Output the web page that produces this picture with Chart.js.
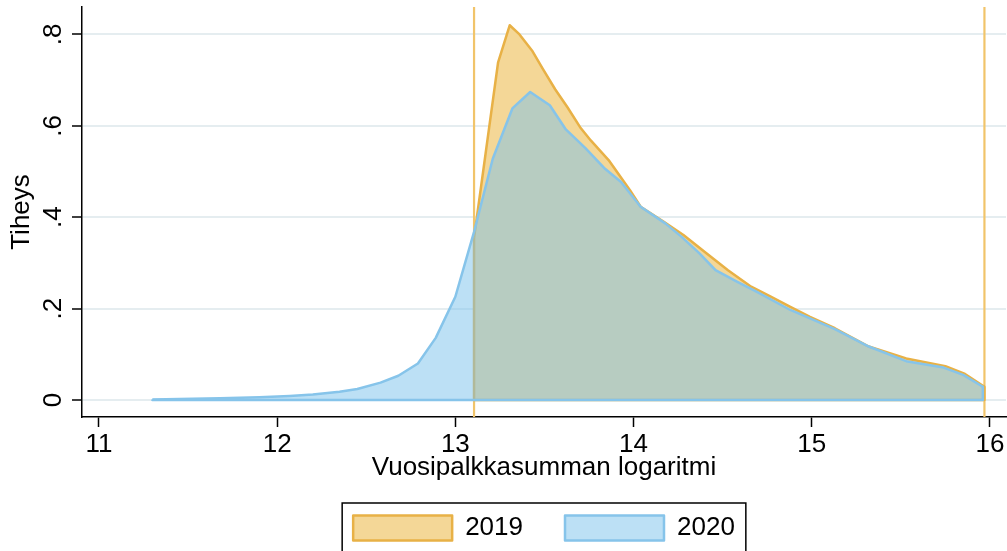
<!DOCTYPE html>
<html>
<head>
<meta charset="utf-8">
<script src="https://cdn.jsdelivr.net/npm/chart.js@4.4.1/dist/chart.umd.min.js"></script>
<style>
  html, body { margin: 0; padding: 0; background: #fff; overflow: hidden; }
  #wrap { width: 1007px; height: 551px; }
</style>
</head>
<body>
<div id="wrap"><canvas id="density-chart"></canvas></div>
<script>
// density curves
var x2019 = [13.105, 13.17, 13.24, 13.305, 13.36, 13.43, 13.49, 13.56, 13.63, 13.70, 13.76, 13.86, 13.98, 14.04,
             14.17, 14.28, 14.40, 14.53, 14.66, 14.77, 14.88, 14.99, 15.13, 15.32, 15.53, 15.75, 15.86, 15.969];
var dens2019 = [0.355, 0.54, 0.739, 0.82, 0.80, 0.765, 0.725, 0.68, 0.64, 0.597, 0.568, 0.525, 0.459, 0.423,
                0.39, 0.361, 0.324, 0.284, 0.248, 0.226, 0.204, 0.182, 0.157, 0.117, 0.091, 0.074, 0.057, 0.029];
var x2020 = [11.30, 11.68, 11.90, 12.07, 12.20, 12.35, 12.45, 12.58, 12.68, 12.79, 12.89, 13.00, 13.105, 13.21,
             13.32, 13.42, 13.53, 13.62, 13.73, 13.84, 13.93, 14.04, 14.18, 14.27, 14.37, 14.46, 14.58, 14.69,
             14.88, 15.13, 15.32, 15.53, 15.74, 15.85, 15.96];
var dens2020 = [0.001, 0.004, 0.006, 0.009, 0.012, 0.018, 0.024, 0.038, 0.053, 0.080, 0.136, 0.226, 0.368, 0.528,
                0.638, 0.674, 0.645, 0.592, 0.551, 0.506, 0.477, 0.423, 0.386, 0.357, 0.321, 0.284, 0.259, 0.237,
                0.197, 0.155, 0.117, 0.085, 0.071, 0.055, 0.029];
var seriesLabels = ["2019", "2020"];
var xlines = [13.105, 15.969];
var xTicks = [11, 12, 13, 14, 15, 16];
var xTickLabels = ["11", "12", "13", "14", "15", "16"];
var yTicks = [0, 0.2, 0.4, 0.6, 0.8];
var yTickLabels = ["0", ".2", ".4", ".6", ".8"];

var FONT = "'Liberation Sans', Arial, Helvetica, sans-serif";
var X_MIN = 10.905, X_MAX = 16.09, Y_MIN = -0.0372, Y_MAX = 0.86;

function pts(xs, ys) {
    return xs.map(function(x, i) { return {x: x, y: ys[i]}; });
}
// close the area outline: drop to zero at both ends and run along the baseline
function outline(xs, ys) {
    var n = xs.length - 1;
    return [{x: xs[n], y: ys[n]}, {x: xs[n], y: 0}, {x: xs[0], y: 0}, {x: xs[0], y: ys[0]}];
}

var orangeLine = '#e8b146', orangeFill = '#f4d797';
var blueLine = '#86c4ea', blueFill = 'rgba(122,193,236,0.5)';

var datasets = [
    {label: seriesLabels[0], data: pts(x2019, dens2019), fill: 'origin', order: 4,
     borderColor: orangeLine, backgroundColor: orangeFill, borderWidth: 2.5},
    {label: seriesLabels[1], data: pts(x2020, dens2020), fill: 'origin', order: 2,
     borderColor: blueLine, backgroundColor: blueFill, borderWidth: 2.5},
    {label: 'edge2019', data: outline(x2019, dens2019), fill: false, order: 3,
     borderColor: orangeLine, borderWidth: 2.5},
    {label: 'edge2020', data: outline(x2020, dens2020), fill: false, order: 1,
     borderColor: blueLine, borderWidth: 2.5}
];
xlines.forEach(function(v) {
    datasets.push({label: 'xline', data: [{x: v, y: Y_MIN}, {x: v, y: Y_MAX}], fill: false, order: 6,
                   borderColor: '#f1c46a', borderWidth: 2.2, clip: false});
});

// tick labels drawn by hand: the y ones are rotated, which Chart.js can't do on a vertical axis,
// and the x ones sit lower than the library puts them
var tickLabelsPlugin = {
    id: 'tickLabels',
    afterDraw: function(chart) {
        var ctx = chart.ctx, xs = chart.scales.x, ys = chart.scales.y, area = chart.chartArea;
        ctx.save();
        ctx.fillStyle = '#000';
        ctx.font = '26px ' + FONT;
        ctx.textAlign = 'center';
        ctx.textBaseline = 'alphabetic';
        xTicks.forEach(function(v, i) {
            ctx.fillText(xTickLabels[i], xs.getPixelForValue(v), area.bottom + 35);
        });
        yTicks.forEach(function(v, i) {
            ctx.save();
            ctx.translate(area.left - 21, ys.getPixelForValue(v));
            ctx.rotate(-Math.PI / 2);
            ctx.fillText(yTickLabels[i], 0, 0);
            ctx.restore();
        });
        ctx.restore();
    }
};

// frame round the legend
var legendBoxPlugin = {
    id: 'legendBox',
    afterDraw: function(chart) {
        var hits = chart.legend.legendHitBoxes;
        if (!hits || !hits.length) return;
        var first = hits[0], last = hits[hits.length - 1];
        var ctx = chart.ctx;
        ctx.save();
        ctx.strokeStyle = '#000';
        ctx.lineWidth = 1.5;
        ctx.strokeRect(first.left - 11, first.top - 12,
                       last.left + last.width + 11 - (first.left - 11), first.height + 26);
        ctx.restore();
    }
};

new Chart(document.getElementById("density-chart"), {
    type: 'line',
    data: {datasets: datasets},
    options: {
        responsive: true,
        maintainAspectRatio: false,
        animation: false,
        events: [],
        layout: {padding: {top: 7, right: 1, left: 0, bottom: 0}},
        elements: {
            point: {radius: 0},
            line: {tension: 0, borderJoinStyle: 'round'}
        },
        scales: {
            x: {
                type: 'linear',
                min: X_MIN,
                max: X_MAX,
                afterBuildTicks: function(s) { s.ticks = xTicks.map(function(v) { return {value: v}; }); },
                afterFit: function(s) { s.height = 56; },
                grid: {drawOnChartArea: false, tickLength: 10, tickColor: '#000', tickWidth: 1.5},
                border: {display: true, color: '#000', width: 1.5},
                ticks: {display: false},
                title: {display: true, text: 'Vuosipalkkasumman logaritmi', color: '#000',
                        font: {family: FONT, size: 26, lineHeight: 1}, padding: {top: 0, bottom: -8}}
            },
            y: {
                min: Y_MIN,
                max: Y_MAX,
                afterBuildTicks: function(s) { s.ticks = yTicks.map(function(v) { return {value: v}; }); },
                afterFit: function(s) { s.width = 82; },
                grid: {color: '#e5edf0', lineWidth: 2, tickLength: 10, tickColor: '#000', tickWidth: 1.5},
                border: {display: true, color: '#000', width: 1.5},
                ticks: {display: false},
                title: {display: true, text: 'Tiheys', color: '#000',
                        font: {family: FONT, size: 26, lineHeight: 1}, padding: {top: 9, bottom: 0}}
            }
        },
        plugins: {
            tooltip: {enabled: false},
            legend: {
                position: 'bottom',
                fullSize: false,
                labels: {
                    boxWidth: 99,
                    boxHeight: 25,
                    padding: 42,
                    color: '#000',
                    font: {family: FONT, size: 26},
                    filter: function(item) { return item.datasetIndex < 2; },
                    sort: function(a, b) { return a.datasetIndex - b.datasetIndex; }
                }
            }
        }
    },
    plugins: [tickLabelsPlugin, legendBoxPlugin]
});
</script>
</body>
</html>
